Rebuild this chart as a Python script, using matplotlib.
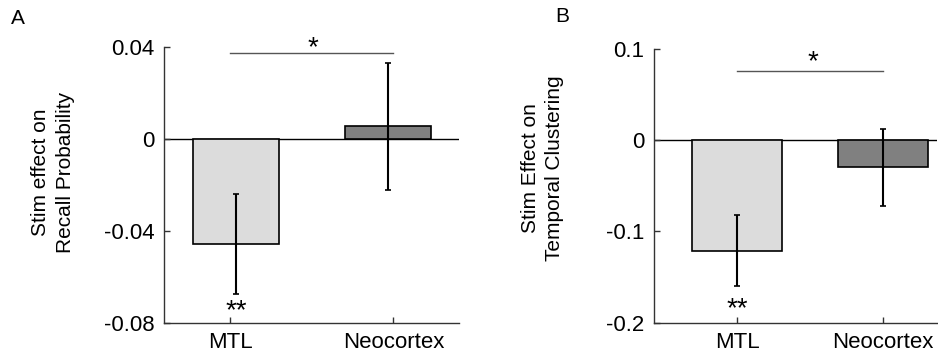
import matplotlib
matplotlib.use("Agg")
import matplotlib.pyplot as plt

plt.rcParams['font.family'] = ['Liberation Sans', 'DejaVu Sans']

categories = ["MTL", "Neocortex"]
recall_means = [-0.0457, 0.0055]
recall_err = [0.0217, 0.0276]
cluster_means = [-0.121, -0.030]
cluster_err = [0.039, 0.042]
bar_colors = ["#dcdcdc", "#808080"]

W, H = 938, 356
fig = plt.figure(figsize=(W / 100, H / 100), dpi=100)


def px_axes(l, t, r, b):
    return fig.add_axes([l / W, 1 - b / H, (r - l) / W, (b - t) / H])


def style(ax, ylim, yticks, yticklabels, xlim, xticks):
    ax.set_ylim(*ylim)
    ax.set_xlim(*xlim)
    ax.set_yticks(yticks)
    ax.set_yticklabels(yticklabels)
    ax.set_xticks(xticks)
    ax.set_xticklabels(categories)
    for s in ["top", "right"]:
        ax.spines[s].set_visible(False)
    for s in ["left", "bottom"]:
        ax.spines[s].set_color("#333333")
        ax.spines[s].set_linewidth(1.0)
    ax.tick_params(direction="in", length=4, width=1, colors="#333333",
                   labelcolor="black", labelsize=16, pad=7)
    ax.tick_params(axis="x", pad=7)
    ax.axhline(0, color="black", lw=1.0, zorder=1)


# Panel A
axA = px_axes(164.3, 46.7, 459, 322.7)
xs = [1, 2]
axA.bar(xs, recall_means, width=0.56, color=bar_colors, edgecolor="black",
        linewidth=1.2, zorder=2)
axA.errorbar(xs, recall_means, yerr=recall_err, fmt="none", ecolor="black",
             elinewidth=1.5, capsize=2.5, capthick=1.2, zorder=3)
style(axA, (-0.08, 0.04), [-0.08, -0.04, 0, 0.04], ["-0.08", "-0.04", "0", "0.04"],
      (0.528, 2.467), [0.962, 2.035])
axA.plot([0.962, 2.035], [0.0374, 0.0374], color="#555555", lw=1.0, clip_on=False)
axA.text(1.505, 0.0395, "*", ha="center", va="center", fontsize=20)
axA.text(1.0, -0.0752, "**", ha="center", va="center", fontsize=20)

# Panel B
axB = px_axes(654, 48.7, 937, 322.7)
axB.bar(xs, cluster_means, width=0.62, color=bar_colors, edgecolor="black",
        linewidth=1.2, zorder=2)
axB.errorbar(xs, cluster_means, yerr=cluster_err, fmt="none", ecolor="black",
             elinewidth=1.5, capsize=2.5, capthick=1.2, zorder=3)
style(axB, (-0.2, 0.1), [-0.2, -0.1, 0, 0.1], ["-0.2", "-0.1", "0", "0.1"],
      (0.432, 2.37), [1, 2])
axB.plot([1, 2], [0.0756, 0.0756], color="#555555", lw=1.0, clip_on=False)
axB.text(1.52, 0.085, "*", ha="center", va="center", fontsize=20)
axB.text(1.0, -0.185, "**", ha="center", va="center", fontsize=20)

# Y labels
fig.text(53 / W, 1 - 172 / H, "Stim effect on\nRecall Probability", rotation=90,
         ha="center", va="center", multialignment="center", fontsize=15,
         linespacing=1.4)
fig.text(542.5 / W, 1 - 168 / H, "Stim Effect on\nTemporal Clustering", rotation=90,
         ha="center", va="center", multialignment="center", fontsize=15,
         linespacing=1.4)

# Panel letters
fig.text(18 / W, 1 - 18 / H, "A", ha="center", va="center", fontsize=15)
fig.text(562 / W, 1 - 17 / H, "B", ha="center", va="center", fontsize=15)

fig.savefig("out.png", dpi=100)
